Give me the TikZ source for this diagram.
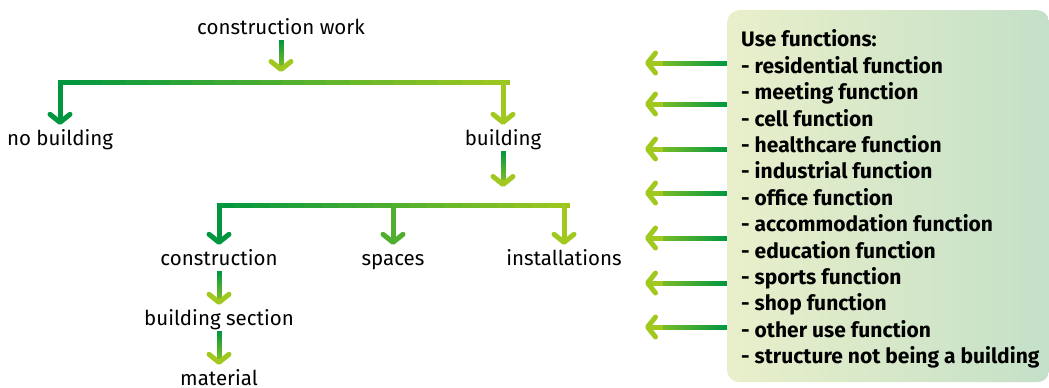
\documentclass[tikz,border=0pt]{standalone}
\usepackage{fontspec}
\setmainfont{Fira Sans}
\usetikzlibrary{arrows.meta, positioning, calc}

\definecolor{dgreen}{RGB}{0,150,64}
\definecolor{lgreen}{RGB}{160,200,30}
\definecolor{boxleft}{RGB}{233,239,202}
\definecolor{boxright}{RGB}{196,224,200}

% stroke that runs from one colour into another, drawn in short pieces
\newcommand{\fadeline}[4]{%
  \foreach \k in {0,...,19}{%
    \pgfmathtruncatemacro{\mix}{(\k+0.5)*5}%
    \draw[line width=5pt, #4!\mix!#3] ($(#1)!\k/20!(#2)$) -- ($(#1)!{(\k+1.2)/20}!(#2)$);
  }}
% the same, ending in an open arrow head
\newcommand{\fadearrow}[4]{%
  \path ($(#1)!0.8!(#2)$) coordinate (fadeend);
  \fadeline{#1}{fadeend}{#3}{#4!80!#3}
  \draw[drop, #4] ($(#1)!0.75!(#2)$) -- (#2);
}

\begin{document}
\begin{tikzpicture}[
  x=1pt, y=-1pt,
  lbl/.style = {font=\fontsize{20.5}{24}\selectfont, inner sep=2pt,
    text height=15pt, text depth=4pt, anchor=base},
  drop/.style = {line width=5pt, shorten >=3pt, -{Straight Barb[length=8pt, width=20pt, round]}},
  funcbox/.style = {rounded corners=12pt, left color=boxleft, right color=boxright,
    anchor=north west, minimum width=322pt, minimum height=372pt},
  funclist/.style = {anchor=west, align=left, inner sep=0pt,
    font=\bfseries\fontsize{21}{26.4}\selectfont},
  node distance=60pt, on grid
]
  \useasboundingbox (0,0) rectangle (1049,388);

  % Tree of terms
  \node[lbl] (work) at (281,34) {construction work};
  \node[lbl] (nobuild) at (60,145) {no building};
  \node[lbl] (build) at (503,145) {building};
  \node[lbl] (cons) at (219,265) {construction};
  \node[lbl] (spaces) at (393,265) {spaces};
  \node[lbl] (inst) at (564,265) {installations};
  \node[lbl, below=of cons] (section) {building section};
  \node[lbl, text depth=0pt, below=58pt of section] (material) {material};

  % Use functions
  \node[funcbox] (funcs) at (727,10) {};
  \node[funclist] (list) at ([xshift=14pt, yshift=-3pt]funcs.west) {Use functions:\\
    - residential function\\
    - meeting function\\
    - cell function\\
    - healthcare function\\
    - industrial function\\
    - office function\\
    - accommodation function\\
    - education function\\
    - sports function\\
    - shop function\\
    - other use function\\
    - structure not being a building};

  % First split: construction work
  \coordinate (s1) at (0,82);
  \coordinate[yshift=7pt] (t1) at (work.south |- s1);
  \fadearrow{work.south}{t1}{dgreen}{lgreen}
  \coordinate[xshift=-2.5pt] (s1l) at (nobuild.north |- s1);
  \coordinate[xshift=2.5pt] (s1r) at (build.north |- s1);
  \fadeline{s1l}{s1r}{dgreen}{lgreen}
  \draw[drop, dgreen] (nobuild.north |- s1) -- (nobuild.north);
  \draw[drop, lgreen] (build.north |- s1) -- (build.north);

  % Second split: building
  \coordinate (s2) at (0,205);
  \coordinate[yshift=15pt] (t2) at (build.south |- s2);
  \fadearrow{build.south}{t2}{dgreen}{lgreen}
  \coordinate[xshift=-2.5pt] (s2l) at (cons.north |- s2);
  \coordinate[xshift=2.5pt] (s2r) at (inst.north |- s2);
  \fadeline{s2l}{s2r}{dgreen}{lgreen}
  \draw[drop, dgreen] (cons.north |- s2) -- (cons.north);
  \draw[drop, lgreen!50!dgreen] (spaces.north |- s2) -- (spaces.north);
  \draw[drop, lgreen] (inst.north |- s2) -- (inst.north);

  % Chain below construction
  \fadearrow{cons.south}{section.north}{dgreen}{lgreen}
  \fadearrow{section.south}{material.north}{dgreen}{lgreen}

  % Arrows out of the function list
  \foreach \y [count=\i] in {63,104,149,193,238,283,327}{
    \coordinate (u\i) at (642,\y);
    \fadearrow{funcs.west |- u\i}{u\i}{dgreen}{lgreen}
  }
\end{tikzpicture}
\end{document}
